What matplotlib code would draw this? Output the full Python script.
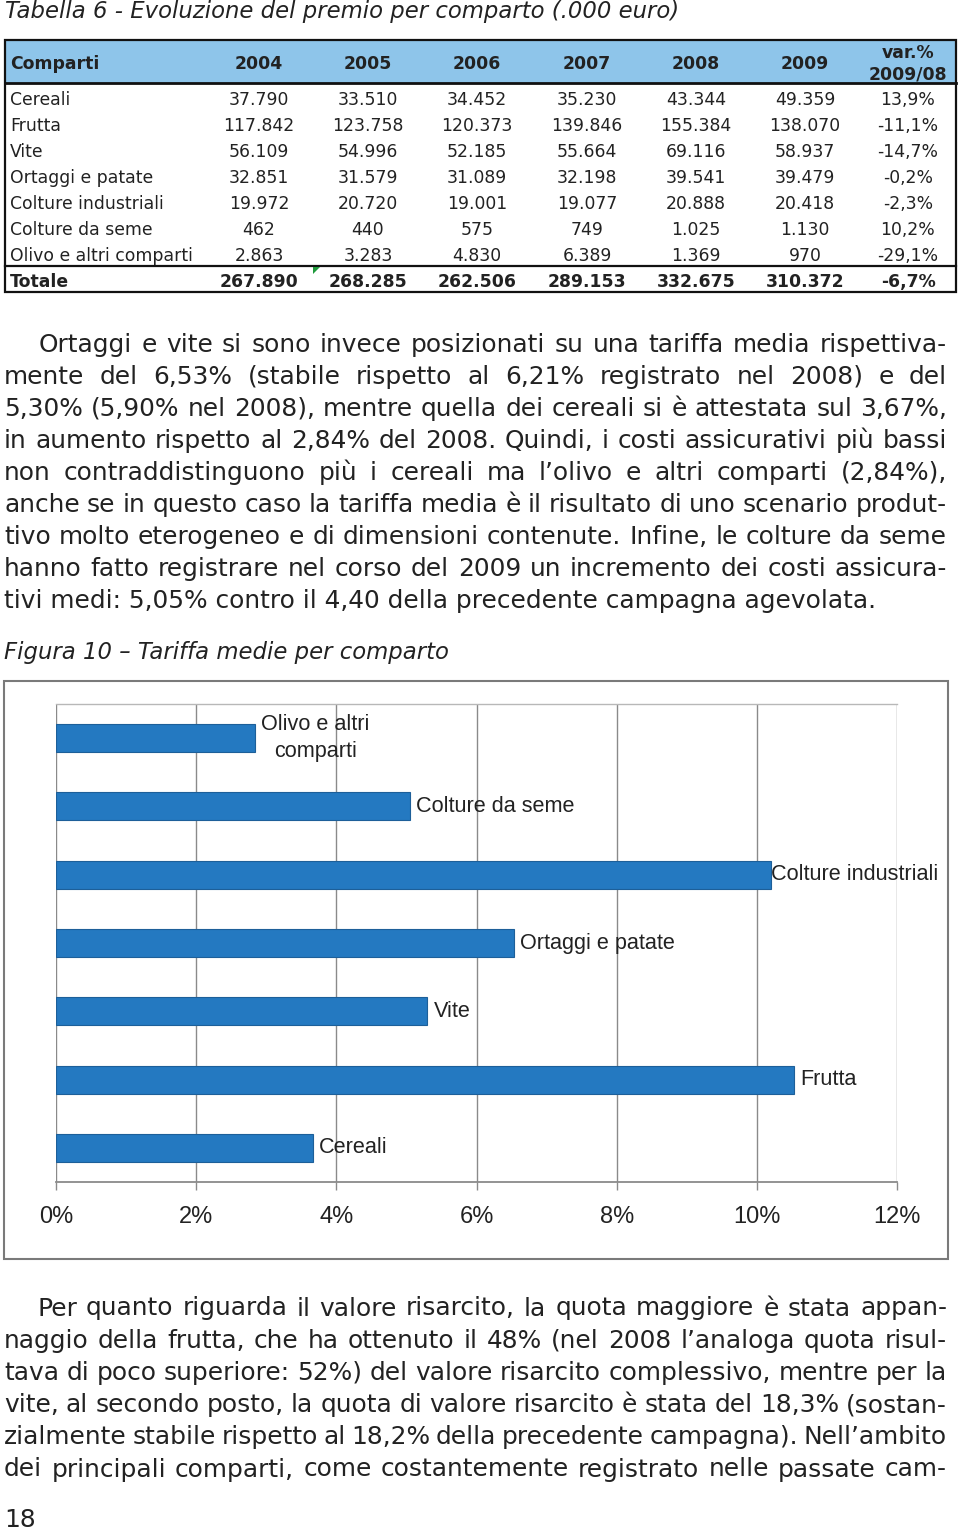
import matplotlib
matplotlib.use('Agg')
import matplotlib.pyplot as plt
from matplotlib.patches import Rectangle, Polygon
import numpy as np

# ---------------- data ----------------
title = "Tabella 6 - Evoluzione del premio per comparto (.000 euro)"
first_col_header = "Comparti"
years = ["2004", "2005", "2006", "2007", "2008", "2009"]
var_header = "var.%\n2009/08"
comparti = ["Cereali", "Frutta", "Vite", "Ortaggi e patate",
            "Colture industriali", "Colture da seme", "Olivo e altri comparti"]
premio_2004 = ["37.790", "117.842", "56.109", "32.851", "19.972", "462", "2.863"]
premio_2005 = ["33.510", "123.758", "54.996", "31.579", "20.720", "440", "3.283"]
premio_2006 = ["34.452", "120.373", "52.185", "31.089", "19.001", "575", "4.830"]
premio_2007 = ["35.230", "139.846", "55.664", "32.198", "19.077", "749", "6.389"]
premio_2008 = ["43.344", "155.384", "69.116", "39.541", "20.888", "1.025", "1.369"]
premio_2009 = ["49.359", "138.070", "58.937", "39.479", "20.418", "1.130", "970"]
var_0908 = ["13,9%", "-11,1%", "-14,7%", "-0,2%", "-2,3%", "10,2%", "-29,1%"]
totale_label = "Totale"
totale = ["267.890", "268.285", "262.506", "289.153", "332.675", "310.372"]
totale_var = "-6,7%"

para1 = [
    "Ortaggi e vite si sono invece posizionati su una tariffa media rispettiva-",
    "mente del 6,53% (stabile rispetto al 6,21% registrato nel 2008) e del",
    "5,30% (5,90% nel 2008), mentre quella dei cereali si è attestata sul 3,67%,",
    "in aumento rispetto al 2,84% del 2008. Quindi, i costi assicurativi più bassi",
    "non contraddistinguono più i cereali ma l’olivo e altri comparti (2,84%),",
    "anche se in questo caso la tariffa media è il risultato di uno scenario produt-",
    "tivo molto eterogeneo e di dimensioni contenute. Infine, le colture da seme",
    "hanno fatto registrare nel corso del 2009 un incremento dei costi assicura-",
    "tivi medi: 5,05% contro il 4,40 della precedente campagna agevolata.",
]
figure_caption = "Figura 10 – Tariffa medie per comparto"
chart_categories = ["Cereali", "Frutta", "Vite", "Ortaggi e patate",
                    "Colture industriali", "Colture da seme", "Olivo e altri\ncomparti"]
tariffa_media = [3.67, 10.53, 5.30, 6.53, 10.20, 5.05, 2.84]
x_ticks = [0, 2, 4, 6, 8, 10, 12]

para2 = [
    "Per quanto riguarda il valore risarcito, la quota maggiore è stata appan-",
    "naggio della frutta, che ha ottenuto il 48% (nel 2008 l’analoga quota risul-",
    "tava di poco superiore: 52%) del valore risarcito complessivo, mentre per la",
    "vite, al secondo posto, la quota di valore risarcito è stata del 18,3% (sostan-",
    "zialmente stabile rispetto al 18,2% della precedente campagna). Nell’ambito",
    "dei principali comparti, come costantemente registrato nelle passate cam-",
]
page_number = "18"

# ---------------- figure setup ----------------
W, H = 960, 1530
fig = plt.figure(figsize=(W / 100, H / 100), dpi=100)
fig.patch.set_facecolor('white')
bg = fig.add_axes([0, 0, 1, 1])
bg.set_xlim(0, W)
bg.set_ylim(H, 0)
bg.axis('off')
renderer = fig.canvas.get_renderer()

BODY = 'DejaVu Sans'
CHART = 'Liberation Sans'
INK = '#222222'


def text_width(s, size, **kw):
    t = bg.text(0, 0, s, fontsize=size, **kw)
    w = t.get_window_extent(renderer).width
    t.remove()
    return w


def fit(s, target, ref=16.0, **kw):
    return ref * target / text_width(s, ref, **kw)


# ---------------- title ----------------
title_fs = fit(title, 675, family=BODY, style='italic')
bg.text(5, 18, title, fontsize=title_fs, family=BODY, style='italic',
        color=INK, va='baseline', ha='left')

# ---------------- table ----------------
tab_l, tab_r, tab_t, tab_b = 5, 956, 40, 292
head_b = 83
tot_line = 266
col_x = [259, 368, 477, 587, 696, 805]
var_x = 908
row_base0, row_step = 105, 26
tab_fs = fit("Olivo e altri comparti", 183, family=BODY)

bg.add_patch(Rectangle((tab_l, tab_t), tab_r - tab_l, head_b - tab_t,
                       facecolor='#8EC5EA', edgecolor='none', zorder=1))
bg.add_patch(Rectangle((tab_l, tab_t), tab_r - tab_l, tab_b - tab_t,
                       facecolor='none', edgecolor='#111111', lw=1.6, zorder=3))
bg.plot([tab_l, tab_r], [head_b, head_b], color='#111111', lw=2.0, zorder=3)
bg.plot([tab_l, tab_r], [tot_line, tot_line], color='#111111', lw=1.6, zorder=3)

kw_b = dict(fontsize=tab_fs, family=BODY, weight='bold', color=INK, va='baseline', zorder=4)
kw_n = dict(fontsize=tab_fs, family=BODY, color=INK, va='baseline', zorder=4)
bg.text(10, 69, first_col_header, ha='left', **kw_b)
for x, yr in zip(col_x, years):
    bg.text(x, 69, yr, ha='center', **kw_b)
vh = var_header.split('\n')
bg.text(var_x, 58, vh[0], ha='center', **kw_b)
bg.text(var_x, 79, vh[1], ha='center', **kw_b)

cols = [premio_2004, premio_2005, premio_2006, premio_2007, premio_2008, premio_2009]
for i, name in enumerate(comparti):
    yb = row_base0 + i * row_step
    bg.text(10, yb, name, ha='left', **kw_n)
    for x, col in zip(col_x, cols):
        bg.text(x, yb, col[i], ha='center', **kw_n)
    bg.text(var_x, yb, var_0908[i], ha='center', **kw_n)
yb = 287
bg.text(10, yb, totale_label, ha='left', **kw_b)
for x, v in zip(col_x, totale):
    bg.text(x, yb, v, ha='center', **kw_b)
bg.text(var_x, yb, totale_var, ha='center', **kw_b)
# Excel green corner marker
bg.add_patch(Polygon([(313, 267), (320, 267), (313, 274)], closed=True,
                     facecolor='#1f9a3c', edgecolor='none', zorder=4))

# ---------------- body text ----------------
body_fs = fit(para1[-1], 874, family=BODY)


def draw_par(lines, base0, step, indent, x0=4, x1=947, last_justified=False):
    for k, line in enumerate(lines):
        y = base0 + k * step
        left = x0 + (indent if k == 0 else 0)
        justify = (k < len(lines) - 1) or last_justified
        if not justify:
            bg.text(left, y, line, fontsize=body_fs, family=BODY, color=INK,
                    va='baseline', ha='left')
            continue
        words = line.split(' ')
        widths = [text_width(w, body_fs, family=BODY) for w in words]
        gap = (x1 - left - sum(widths)) / (len(words) - 1)
        x = left
        for w, wd in zip(words, widths):
            bg.text(x, y, w, fontsize=body_fs, family=BODY, color=INK,
                    va='baseline', ha='left')
            x += wd + gap


draw_par(para1, 351.7, 32.07, 35)
draw_par(para2, 1315.5, 32.2, 33, last_justified=True)

cap_fs = fit(figure_caption, 444, family=BODY, style='italic')
bg.text(4, 659, figure_caption, fontsize=cap_fs, family=BODY, style='italic',
        color=INK, va='baseline', ha='left')
bg.text(4, 1527, page_number, fontsize=body_fs, family=BODY, color=INK,
        va='baseline', ha='left')

# ---------------- chart ----------------
frame = (4, 681, 948, 1259)
bg.add_patch(Rectangle((frame[0], frame[1]), frame[2] - frame[0], frame[3] - frame[1],
                       facecolor='white', edgecolor='#7a7a7a', lw=1.5, zorder=1))

pl, pr, pt, pb = 56, 897, 704, 1182
ax = fig.add_axes([pl / W, 1 - pb / H, (pr - pl) / W, (pb - pt) / H])
ax.set_facecolor('none')
ypos = np.arange(len(chart_categories))
ax.barh(ypos, tariffa_media, height=0.41, color='#2479C1', edgecolor='#1d5f99',
        linewidth=0.8, zorder=3)
ax.set_xlim(0, 12)
ax.set_ylim(-0.5, len(chart_categories) - 0.5)
ax.set_yticks([])
ax.set_xticks(x_ticks)
ax.set_xticklabels([f"{t}%" for t in x_ticks])
ax.xaxis.grid(True, color='#8a8a8a', lw=1.0, zorder=0)
ax.set_axisbelow(True)
for s in ['left', 'right']:
    ax.spines[s].set_visible(False)
ax.spines['top'].set_color('#b8b8b8')
ax.spines['top'].set_linewidth(1.0)
ax.spines['bottom'].set_color('#8a8a8a')
ax.spines['bottom'].set_linewidth(1.3)

tick_fs = fit("12%", 47.5, family=CHART)
ax.tick_params(axis='x', length=5.8, width=1.0, color='#8a8a8a', pad=11.5,
               labelsize=tick_fs, labelcolor=INK, direction='out')
for lbl in ax.get_xticklabels():
    lbl.set_family(CHART)

lab_fs = fit("Colture industriali", 168, family=CHART)
px_per_unit = (pr - pl) / 12.0
for i, (v, lab) in enumerate(zip(tariffa_media, chart_categories)):
    gap_px = 6.0
    lw_px = max(text_width(s, lab_fs, family=CHART) for s in lab.split('\n'))
    if pl + v * px_per_unit + gap_px + lw_px > frame[2] - 6:
        gap_px = 0.5
    ax.annotate(lab, (v, i), xytext=(gap_px * 0.72, 0), textcoords='offset points',
                ha='left', va='center', multialignment='center', linespacing=1.4,
                fontsize=lab_fs, family=CHART, color=INK, zorder=5,
                annotation_clip=False)

fig.savefig('out.png', dpi=100, facecolor='white')
